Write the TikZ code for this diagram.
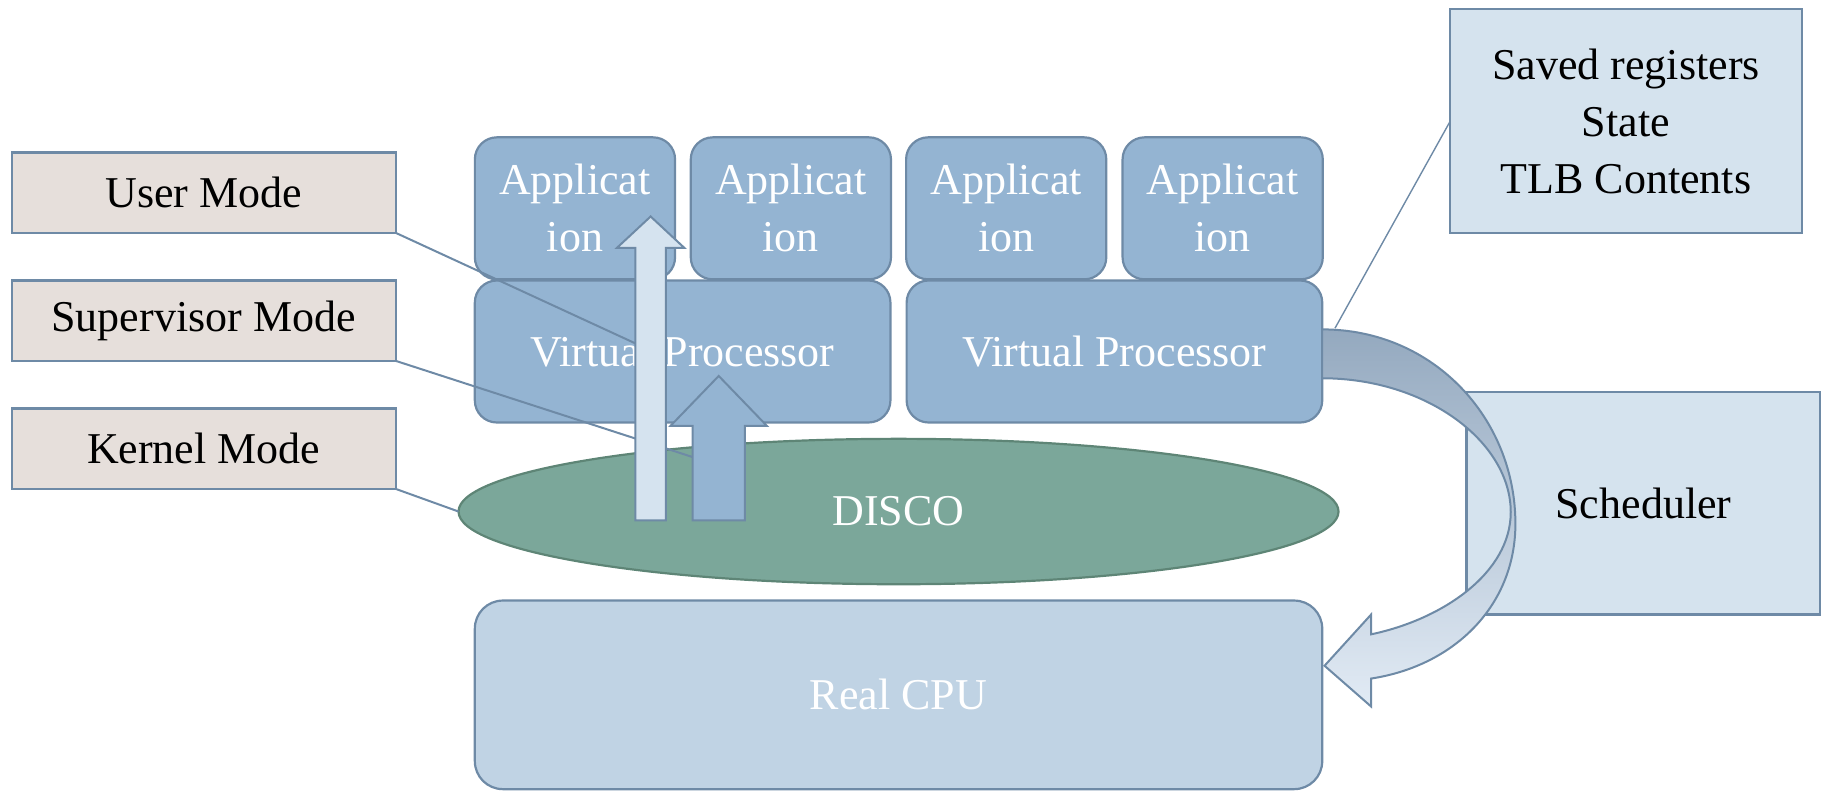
\documentclass[tikz,border=0pt]{standalone}
\usepackage{fontspec}
\setmainfont{Liberation Serif}
\usetikzlibrary{shapes.geometric}
\definecolor{modefill}{HTML}{E6DFDB}
\definecolor{boxline}{HTML}{6E8AA6}
\definecolor{appfill}{HTML}{94B4D2}
\definecolor{discofill}{HTML}{7BA79A}
\definecolor{discoline}{HTML}{5E8576}
\definecolor{cpufill}{HTML}{C0D3E4}
\definecolor{notefill}{HTML}{D5E3EE}
\definecolor{paleup}{HTML}{D5E3EF}
\definecolor{switchtop}{HTML}{94A9BF}
\definecolor{switchmid}{HTML}{A6B8CB}
\definecolor{switchbot}{HTML}{E2EBF5}
\begin{document}
\begin{tikzpicture}[x=0.58195pt, y=-0.58195pt,
  every node/.style={inner sep=0pt, outer sep=0pt, align=center,
    font=\fontsize{22}{28.5}\selectfont},
  modebox/.style={draw=boxline, fill=modefill, line width=1.1pt,
    minimum width=192pt, minimum height=40.2pt},
  appbox/.style={draw=boxline, fill=appfill, line width=1.1pt, rounded corners=11pt,
    minimum width=100.1pt, minimum height=71pt, text=white},
  vpbox/.style={appbox, minimum width=207.8pt},
  notebox/.style={draw=boxline, fill=notefill, line width=1.1pt},
  leader/.style={draw=boxline, line width=1pt},
  blockarrow/.style={draw=boxline, line width=1pt, line join=miter}
]
\useasboundingbox (0,0) rectangle (1568,680);

% mode labels
\node[modebox] (um) at (175,165.5) {User Mode};
\node[modebox] (sm) at (175,275.5) {Supervisor Mode};
\node[modebox] (km) at (175,385.5) {Kernel Mode};

% applications and virtual processors
\node[appbox] (a1) at (494,179)   {Applicat\\ion};
\node[appbox] (a2) at (679.5,179) {Applicat\\ion};
\node[appbox] (a3) at (864.5,179) {Applicat\\ion};
\node[appbox] (a4) at (1050.5,179){Applicat\\ion};
\node[vpbox] (vp1) at (586.5,302) {Virtual Processor};
\node[vpbox] (vp2) at (957.5,302) {Virtual Processor};

% monitor and hardware
\node[ellipse, draw=discoline, fill=discofill, line width=1.1pt,
  minimum width=440pt, minimum height=72.7pt, text=white] (disco) at (772,439.5) {DISCO};
\node[draw=boxline, fill=cpufill, line width=1.1pt, rounded corners=14pt,
  minimum width=423.7pt, minimum height=94.3pt, text=white] (cpu) at (772,597) {Real CPU};

% side notes
\node[notebox, minimum width=175.7pt, minimum height=111.7pt] (saved) at (1397,104)
  {Saved registers\\State\\TLB Contents};
\node[notebox, minimum width=176.9pt, minimum height=111.2pt] (sched) at (1412,432.5)
  {Scheduler};

% leader lines
\coordinate (uend) at (548,296);
\coordinate (send) at (596,393);
\coordinate (vend) at (1147,282);
\draw[leader] (um.south east) -- (uend);
\draw[leader] (sm.south east) -- (send);
\draw[leader] (km.south east) -- (disco.west);
\draw[boxline, line width=0.7pt] (saved.west) -- (vend);

% mode transition arrows
\path[blockarrow, fill=paleup] (546,447) -- (546,213) -- (530,213) -- (559,186)
  -- (588,213) -- (572,213) -- (572,447) -- cycle;
\path[blockarrow, fill=appfill] (595,447) -- (595,366) -- (576,366) -- (617.5,323)
  -- (659,366) -- (640,366) -- (640,447) -- cycle;

% context switch arrow from the virtual processor down to the real CPU
\path[draw=boxline, line width=1pt, line join=miter,
  top color=switchtop, middle color=switchmid, bottom color=switchbot]
  (1136,283) .. controls (1232,283) and (1302,360) .. (1302,450)
  .. controls (1302,520) and (1250,572) .. (1178,583)
  -- (1178,607) -- (1138,572) -- (1178,528) -- (1178,545)
  .. controls (1240,532) and (1298,492) .. (1298,440)
  .. controls (1298,380) and (1226,325) .. (1136,325) -- cycle;
\end{tikzpicture}
\end{document}
